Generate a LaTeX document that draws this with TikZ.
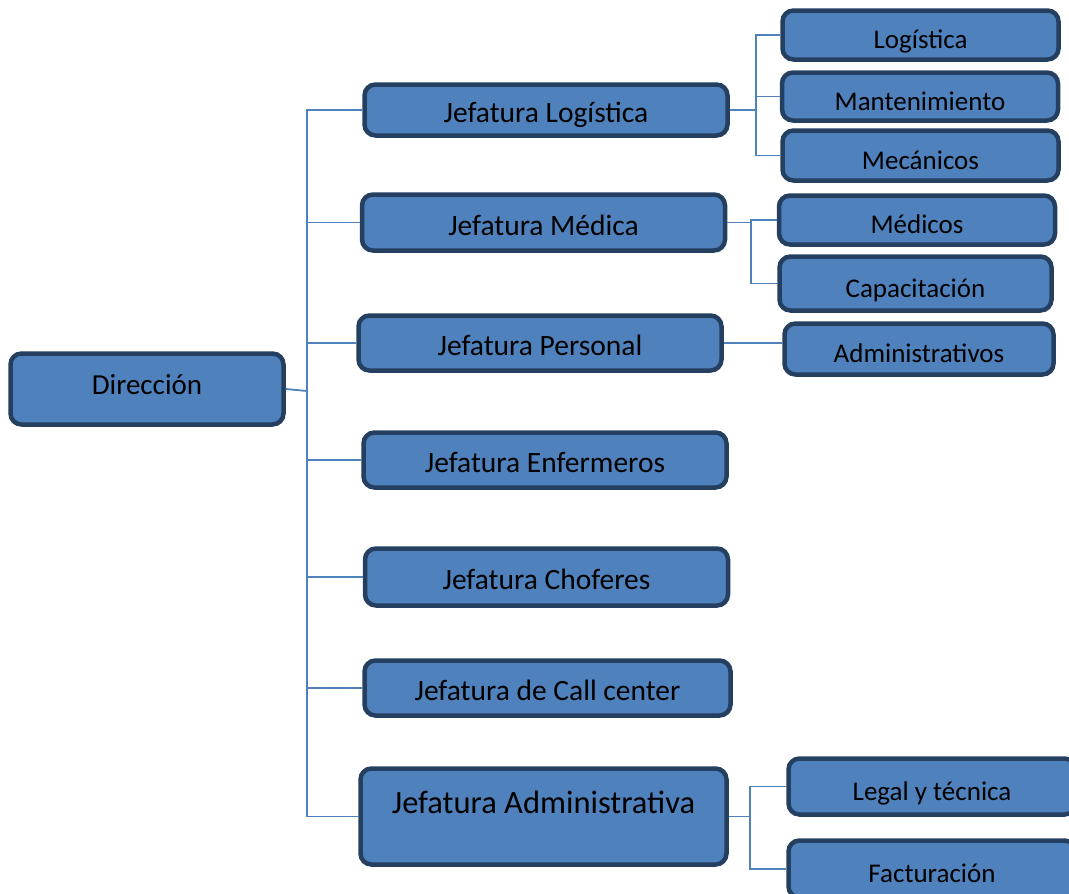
\documentclass[tikz,border=0pt]{standalone}
\usepackage{fontspec}
\setmainfont{Carlito}
\definecolor{azulcaja}{HTML}{4F81BD}
\definecolor{azulborde}{HTML}{243F60}
\tikzset{
  caja/.style={draw=azulborde, fill=azulcaja, line width=4.5pt, rounded corners=11pt, inner sep=2pt, font=\fontsize{29.5}{35}\selectfont},
  jefe/.style={caja, minimum width=363pt, minimum height=55pt, text height=25pt, text depth=0pt},
  sub/.style={caja, minimum width=276pt, minimum height=50pt, text height=27pt, text depth=0pt, font=\fontsize{27}{32}\selectfont},
  linea/.style={draw=azulcaja, line width=1.8pt},
}
\begin{document}
\begin{tikzpicture}[x=1pt,y=-1pt]
  \useasboundingbox (0,0) rectangle (1069,894);
  \clip (0,0) rectangle (1069,894);

  % 画方框
  \node[caja, minimum width=273pt, minimum height=71pt, text height=21pt, text depth=9.5pt, font=\fontsize{29}{35}\selectfont] (dir) at (147,389) {Dirección};
  \node[jefe, minimum height=51pt] (jlog) at (546,110) {Jefatura Logística};
  \node[jefe, minimum height=56pt] (jmed) at (543.5,222.5) {Jefatura Médica};
  \node[jefe] (jper) at (540,343) {Jefatura Personal};
  \node[jefe] (jenf) at (545,460) {Jefatura Enfermeros};
  \node[jefe, minimum height=57pt] (jcho) at (546.5,577) {Jefatura Choferes};
  \node[jefe, minimum width=366pt] (jcal) at (547.5,688) {Jefatura de Call center};
  \node[jefe, minimum width=366pt, minimum height=96pt, text height=24pt, text depth=30pt, font=\fontsize{32.5}{39}\selectfont] (jadm) at (543.5,816.5) {Jefatura Administrativa};

  % 画下级方框
  \node[sub, minimum height=49pt] (slog) at (920.5,35) {Logística};
  \node[sub, minimum height=48pt] (sman) at (920,96.5) {Mantenimiento};
  \node[sub] (smec) at (920.5,155.5) {Mecánicos};
  \node[sub, minimum height=49pt] (smed) at (917,220) {Médicos};
  \node[sub, minimum width=272pt, minimum height=54pt] (scap) at (915.5,283.5) {Capacitación};
  \node[sub, minimum width=269pt, minimum height=51pt] (sadm) at (919,349) {Administrativos};
  \node[sub, minimum width=287pt, minimum height=56pt] (sleg) at (932,786.5) {Legal y técnica};
  \node[sub, minimum width=287pt, minimum height=57pt] (sfac) at (932,869) {Facturación};

  % 主干线
  \coordinate (tronco) at (307,391);
  \draw[linea] (dir.east) -- (tronco);
  \foreach \j in {jlog,jmed,jper,jenf,jcho,jcal,jadm} {
      \draw[linea] (tronco) |- (\j.west);
  }

  % 分支线
  \coordinate (rlog) at (756,110);
  \draw[linea] (jlog.east) -- (rlog);
  \foreach \s in {slog,sman,smec} {
      \draw[linea] (rlog) |- (\s.west);
  }
  \coordinate (rmed) at (751,222.5);
  \draw[linea] (jmed.east) -- (rmed);
  \foreach \s in {smed,scap} {
      \draw[linea] (rmed) |- (\s.west);
  }
  \draw[linea] (jper.east) -- (jper.east -| sadm.west);
  \coordinate (radm) at (750,816.5);
  \draw[linea] (jadm.east) -- (radm);
  \foreach \s in {sleg,sfac} {
      \draw[linea] (radm) |- (\s.west);
  }
\end{tikzpicture}
\end{document}
